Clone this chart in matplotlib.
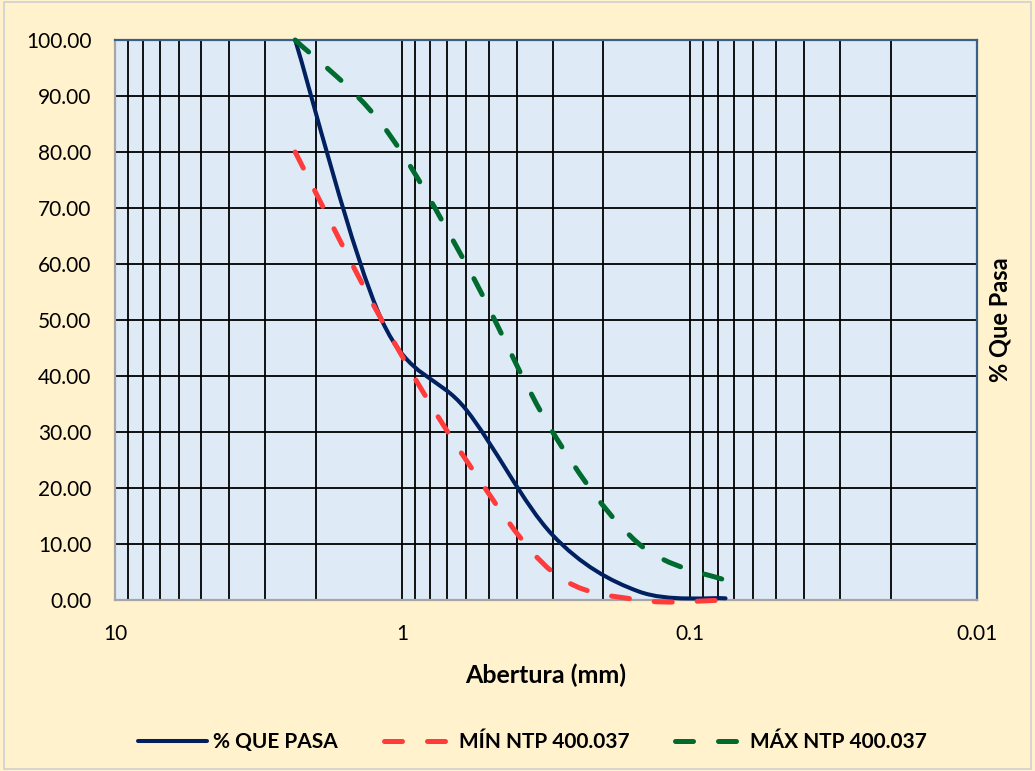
import numpy as np
import matplotlib
matplotlib.use("Agg")
import matplotlib.pyplot as plt
from matplotlib.path import Path
from matplotlib.patches import PathPatch, Rectangle
from matplotlib.lines import Line2D
from matplotlib.ticker import LogLocator, NullFormatter, FixedLocator

plt.rcParams['font.family'] = ['Lato', 'DejaVu Sans']

# datos de la curva granulometrica
abertura = [2.36, 1.18, 0.60, 0.30, 0.15, 0.075]
que_pasa = [100.0, 50.0, 34.0, 11.6, 1.5, 0.3]
min_ntp = [80.0, 50.0, 25.0, 5.0, 0.0, 0.0]
max_ntp = [100.0, 85.0, 60.0, 30.0, 10.0, 3.5]

x_ticks = [10, 1, 0.1, 0.01]
x_labels = ['10', '1', '0.1', '0.01']
y_ticks = list(range(0, 101, 10))


def smooth_path(xs, ys):
    # linea suavizada tipo Excel (bezier sobre log10(x), y)
    pts = np.column_stack([np.log10(xs), np.asarray(ys, float)])
    n = len(pts)
    verts = [pts[0]]
    codes = [Path.MOVETO]
    for i in range(n - 1):
        p0 = pts[max(i - 1, 0)]
        p1 = pts[i]
        p2 = pts[i + 1]
        p3 = pts[min(i + 2, n - 1)]
        verts += [p1 + (p2 - p0) / 6, p2 - (p3 - p1) / 6, p2]
        codes += [Path.CURVE4] * 3
    verts = np.array(verts)
    verts[:, 0] = 10 ** verts[:, 0]
    return Path(verts, codes)


fig = plt.figure(figsize=(10.35, 7.71), dpi=100, facecolor='#FFF2CC')
ax = fig.add_axes([115 / 1035, 1 - 600 / 771, 862 / 1035, 560 / 771])
ax.set_facecolor('#DEEAF6')

ax.set_xscale('log')
ax.set_xlim(10, 0.01)
ax.set_ylim(0, 100)
ax.xaxis.set_major_locator(FixedLocator(x_ticks))
ax.set_xticklabels(x_labels)
ax.xaxis.set_minor_locator(LogLocator(base=10, subs=np.arange(2, 10)))
ax.xaxis.set_minor_formatter(NullFormatter())
ax.set_yticks(y_ticks)
ax.set_yticklabels([f'{v:.2f}' for v in y_ticks])
ax.tick_params(which='both', length=0, labelsize=15, pad=17)
ax.set_axisbelow(True)
ax.grid(which='both', axis='x', color='black', lw=1.3)
ax.grid(which='major', axis='y', color='black', lw=1.3)

for s in ['top', 'right']:
    ax.spines[s].set_color('#3A5F8A')
    ax.spines[s].set_linewidth(1.6)
for s in ['left', 'bottom']:
    ax.spines[s].set_color('#A6A6A6')
    ax.spines[s].set_linewidth(1.6)

dash = (0, (3.6, 5.0))
series = [
    (que_pasa, '#002060', 2.9, '-', '% QUE PASA'),
    (min_ntp, '#FF3B3B', 3.6, dash, 'MÍN NTP 400.037'),
    (max_ntp, '#006B2E', 3.6, dash, 'MÁX NTP 400.037'),
]
handles = []
for vals, col, lw, ls, lab in series:
    patch = PathPatch(smooth_path(abertura, vals), fill=False, edgecolor=col,
                      lw=lw, linestyle=ls, capstyle='round', joinstyle='round',
                      clip_on=False, zorder=3)
    ax.add_patch(patch)
    handles.append(Line2D([], [], color=col, lw=lw, linestyle=ls,
                          dash_capstyle='round', solid_capstyle='round', label=lab))

ax.set_xlabel('Abertura (mm)', fontsize=18, fontweight='bold', labelpad=14)
ax.yaxis.set_label_position('right')
ax.set_ylabel('% Que Pasa', fontsize=17, fontweight='bold', labelpad=8)

fig.legend(handles=handles, loc='center', bbox_to_anchor=(0.5145, 1 - 742 / 771),
           ncol=3, frameon=False, prop={'weight': 'bold', 'size': 15},
           handlelength=3.3, handletextpad=0.3, columnspacing=2.2)

fig.patches.append(Rectangle((0.004, 0.003), 0.992, 0.994, transform=fig.transFigure,
                             fill=False, edgecolor='#D0D0D0', lw=1.2))

fig.savefig('out.png', dpi=100, facecolor=fig.get_facecolor())
